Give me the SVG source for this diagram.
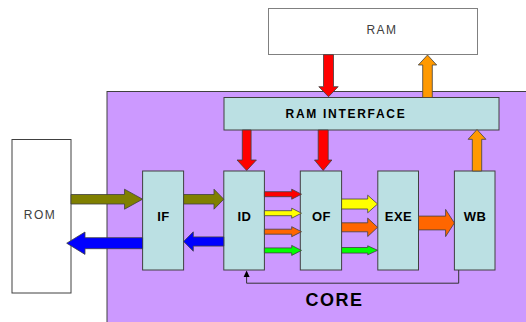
<svg xmlns="http://www.w3.org/2000/svg" width="526" height="322" viewBox="0 0 526 322">
<style>
.mem{fill:#ffffff;stroke:#808080;stroke-width:1}
.stage{fill:#bbe0e3;stroke:#404040;stroke-width:1}
.lbl{font-family:"Liberation Sans",Arial,sans-serif;font-weight:bold;font-size:13px;fill:#000;text-anchor:middle;letter-spacing:0.5px}
.mlbl{font-family:"Liberation Sans",Arial,sans-serif;font-size:12px;fill:#404040;text-anchor:middle;letter-spacing:1.5px}
.arr{stroke:#404040;stroke-width:0.8;stroke-linejoin:miter}
</style>
<rect width="526" height="322" fill="#ffffff"/>
<g id="core">
<rect x="107" y="91.5" width="420" height="232" fill="#cc99ff" stroke="#404040" stroke-width="1"/>
<text x="334.5" y="306" font-family="'Liberation Sans',Arial,sans-serif" font-weight="bold" font-size="18" text-anchor="middle" letter-spacing="1.5" fill="#000">CORE</text>
</g>
<g id="ram">
<rect class="mem" x="268.5" y="8.5" width="209" height="46"/>
<text class="mlbl" x="382" y="34">RAM</text>
</g>
<g id="rom">
<rect class="mem" x="12" y="139.5" width="59" height="153.5" style="stroke:#404040"/>
<text class="mlbl" x="40" y="219">ROM</text>
</g>
<g id="ram_interface">
<rect class="stage" x="224" y="97.5" width="275" height="32.5"/>
<text class="lbl" x="346" y="117.5" style="font-size:12px;letter-spacing:1.7px">RAM INTERFACE</text>
</g>
<g id="if">
<rect class="stage" x="142.6" y="171" width="41" height="99"/>
<text class="lbl" x="163.5" y="221">IF</text>
</g>
<g id="id">
<rect class="stage" x="223.8" y="171" width="40.6" height="99"/>
<text class="lbl" x="244.5" y="221">ID</text>
</g>
<g id="of">
<rect class="stage" x="300.3" y="171" width="41.3" height="99"/>
<text class="lbl" x="321.5" y="221">OF</text>
</g>
<g id="exe">
<rect class="stage" x="377.8" y="171" width="40.7" height="99"/>
<text class="lbl" x="398.5" y="221">EXE</text>
</g>
<g id="wb">
<rect class="stage" x="454.4" y="171" width="40.6" height="99"/>
<text class="lbl" x="475" y="221">WB</text>
</g>
<g id="connectors">
<polygon class="arr" fill="#808000" points="71,194.5 124.5,194.5 124.5,189.2 142.6,199.2 124.5,209.2 124.5,204 71,204"/>
<polygon class="arr" fill="#808000" points="183.6,194.5 214,194.5 214,189.2 223.8,199.2 214,209.2 214,204 183.6,204"/>
<polygon class="arr" fill="#0000ff" points="142.6,237.7 85,237.7 85,232 66.7,243.2 85,254.4 85,248.7 142.6,248.7"/>
<polygon class="arr" fill="#0000ff" points="223.8,236.9 193.3,236.9 193.3,231.8 183.6,241.5 193.3,251.2 193.3,246.1 223.8,246.1"/>
<polygon class="arr" fill="#ff0000" points="264.4,191.7 291.7,191.7 291.7,189.2 301.5,194.2 291.7,199.2 291.7,196.7 264.4,196.7"/>
<polygon class="arr" fill="#ffff00" points="264.4,210.7 291.7,210.7 291.7,208.2 301.5,213.2 291.7,218.2 291.7,215.7 264.4,215.7"/>
<polygon class="arr" fill="#ff6600" points="264.4,229.2 291.7,229.2 291.7,226.7 301.5,231.7 291.7,236.7 291.7,234.2 264.4,234.2"/>
<polygon class="arr" fill="#00ff00" points="264.4,247.9 291.7,247.9 291.7,245.4 301.5,250.4 291.7,255.4 291.7,252.9 264.4,252.9"/>
<polygon class="arr" fill="#ffff00" points="341.6,199 367.7,199 367.7,195.2 377.6,204 367.7,212.8 367.7,209 341.6,209"/>
<polygon class="arr" fill="#ff6600" points="341.6,222.8 367.7,222.8 367.7,218.1 377.6,227.3 367.7,236.5 367.7,231.8 341.6,231.8"/>
<polygon class="arr" fill="#00ff00" points="341.6,247.5 367.7,247.5 367.7,245.8 377.6,250.3 367.7,254.8 367.7,253.1 341.6,253.1"/>
<polygon class="arr" fill="#ff6600" points="418.5,216.1 445.6,216.1 445.6,209.4 454.4,223 445.6,236.6 445.6,229.9 418.5,229.9"/>
<polygon class="arr" fill="#ff0000" points="323.5,54.7 333.5,54.7 333.5,86.7 338.2,86.7 328.5,96.7 318.8,86.7 323.5,86.7"/>
<polygon class="arr" fill="#ff9900" points="422.7,97.5 432.3,97.5 432.3,65 436.7,65 427.5,55 418.3,65 422.7,65"/>
<polygon class="arr" fill="#ff0000" points="242.3,130 251.1,130 251.1,160 256.4,160 246.7,170.5 237,160 242.3,160"/>
<polygon class="arr" fill="#ff0000" points="318.2,130 328.2,130 328.2,160 331.9,160 323.2,170.5 314.5,160 318.2,160"/>
<polygon class="arr" fill="#ff9900" points="472.3,171 481.7,171 481.7,139.3 485.9,139.3 477,129.5 468.1,139.3 472.3,139.3"/>
<polyline points="458.7,270 458.7,283.2 246.6,283.2 246.6,276" fill="none" stroke="#333333" stroke-width="1"/>
<polygon points="246.6,270.5 243.6,277 249.6,277" fill="#000000"/>
</g>
</svg>
